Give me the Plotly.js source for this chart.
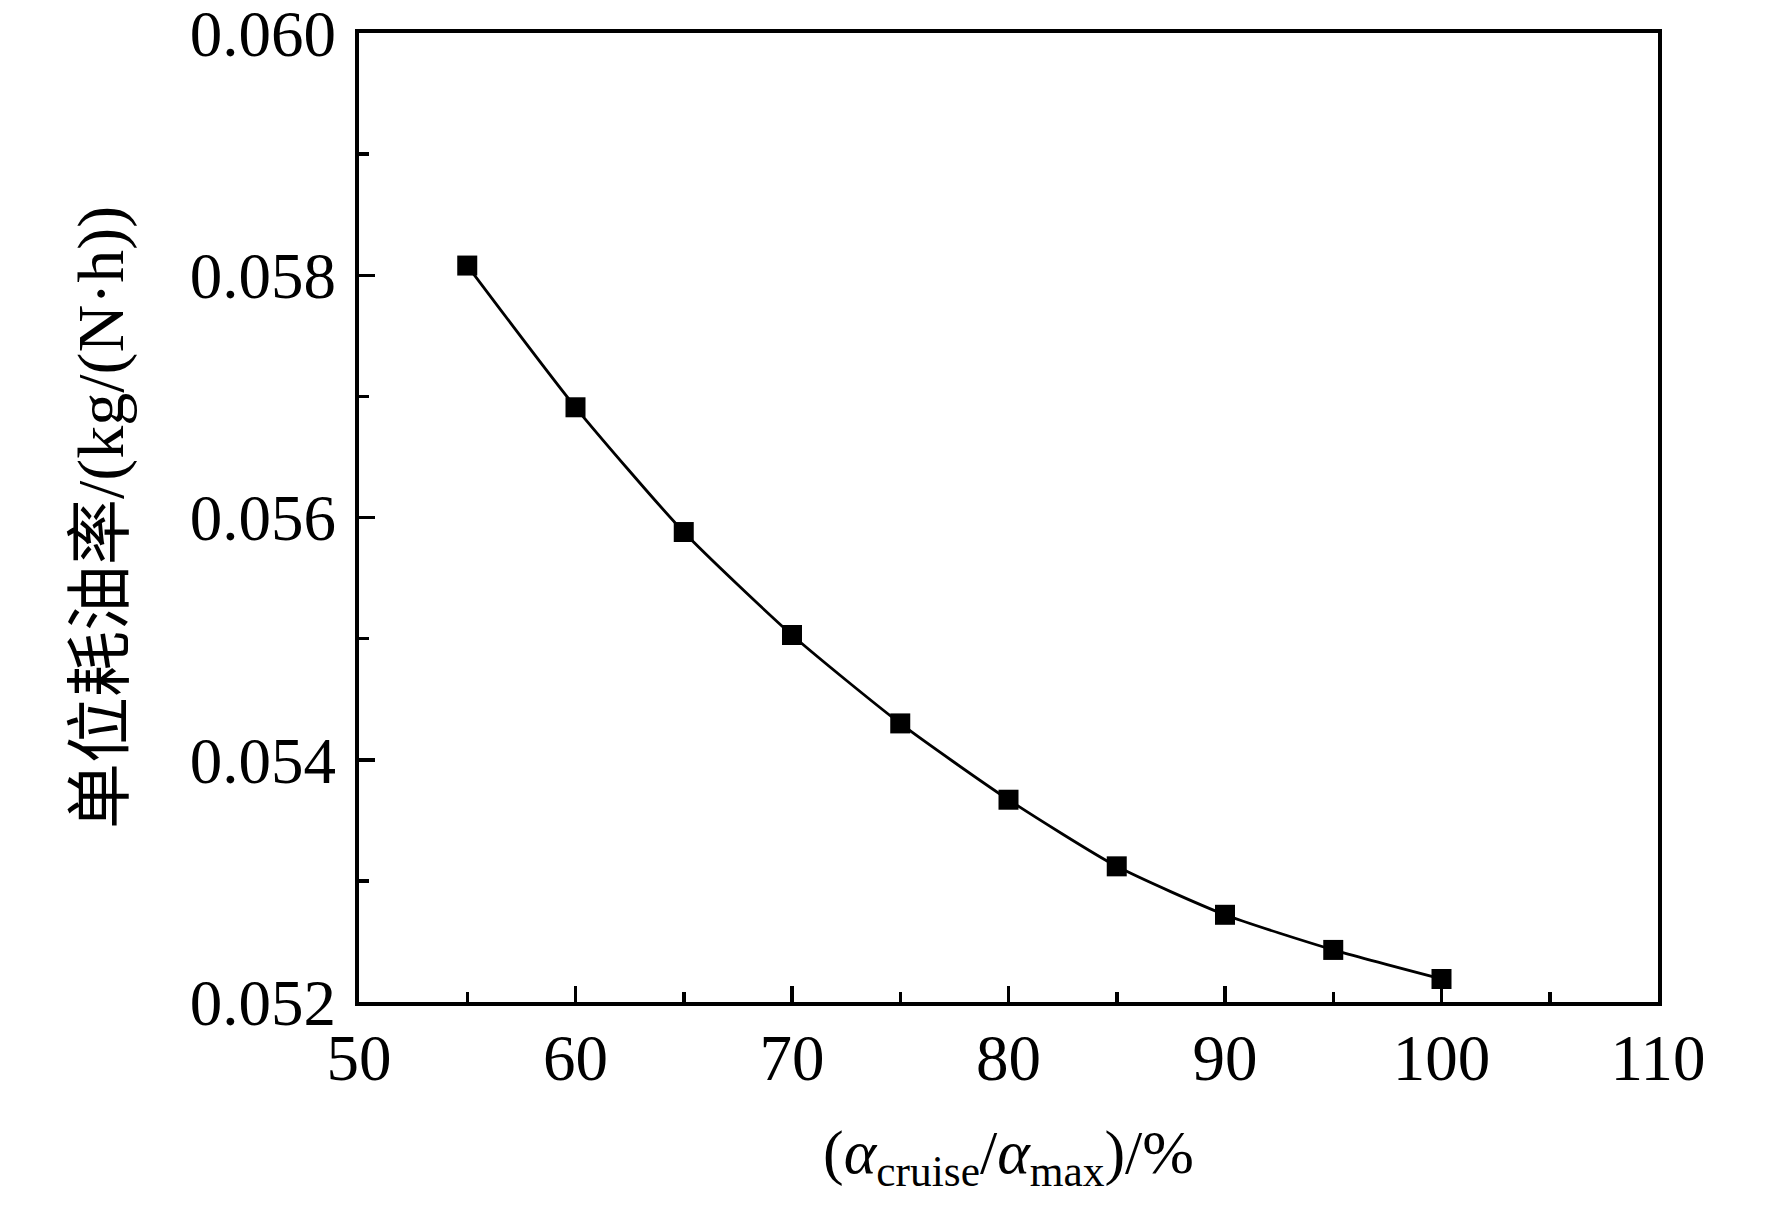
<!DOCTYPE html>
<html>
<head>
<meta charset="utf-8">
<script src="https://cdn.plot.ly/plotly-3.0.1.min.js"></script>
<style>
  html, body { margin: 0; padding: 0; background: #fff; }
  #chart { width: 1772px; height: 1206px; }
</style>
</head>
<body>
<div id="chart"></div>
<script>
// Specific fuel consumption vs cruise throttle ratio.
const ratioPct = [55, 60, 65, 70, 75, 80, 85, 90, 95, 100];
const sfc = [0.05808, 0.05691, 0.05588, 0.05503, 0.05430, 0.05367, 0.05312, 0.05272, 0.05243, 0.05219];

const FONT = '"Liberation Serif", "Times New Roman", "Noto Sans CJK SC", serif';

const axisBase = {
  showline: true,
  linecolor: "#000",
  linewidth: 4,
  mirror: true,
  showgrid: false,
  zeroline: false,
  ticks: "inside",
  ticklen: 16,
  tickwidth: 3.5,
  tickcolor: "#000",
  ticklabeloverflow: "allow",
  tickfont: { family: FONT, size: 65, color: "#000" },
};

Plotly.newPlot("chart", [
  {
    type: "scatter",
    mode: "lines+markers",
    x: ratioPct,
    y: sfc,
    line: { color: "#000", width: 2.8, shape: "spline", smoothing: 0.6 },
    marker: { symbol: "square", size: 20, color: "#000" },
    cliponaxis: false,
    showlegend: false,
  },
], {
  width: 1772,
  height: 1206,
  paper_bgcolor: "#fff",
  plot_bgcolor: "#fff",
  margin: { l: 359, r: 114, t: 33, b: 204 },
  xaxis: Object.assign({}, axisBase, {
    range: [50, 110],
    dtick: 10,
    tick0: 50,
    ticklabelstandoff: -4,
    minor: { ticks: "inside", ticklen: 10, tickwidth: 3.5, tickcolor: "#000", dtick: 5, tick0: 50 },
    title: {
      text: "(<i>α</i><sub>cruise</sub>/<i>α</i><sub>max</sub>)/%",
      font: { family: FONT, size: 62, color: "#000" },
      standoff: 38,
    },
  }),
  yaxis: Object.assign({}, axisBase, {
    range: [0.052, 0.060],
    dtick: 0.002,
    tick0: 0.052,
    tickformat: ".3f",
    ticklabelstandoff: 6,
    minor: { ticks: "inside", ticklen: 10, tickwidth: 3.5, tickcolor: "#000", dtick: 0.001, tick0: 0.052 },
    title: {
      text: "单位耗油率/(kg/(N·h))",
      font: { family: FONT, size: 66, color: "#000" },
      standoff: 46,
    },
  }),
}, { displayModeBar: false, staticPlot: true });
</script>
</body>
</html>
